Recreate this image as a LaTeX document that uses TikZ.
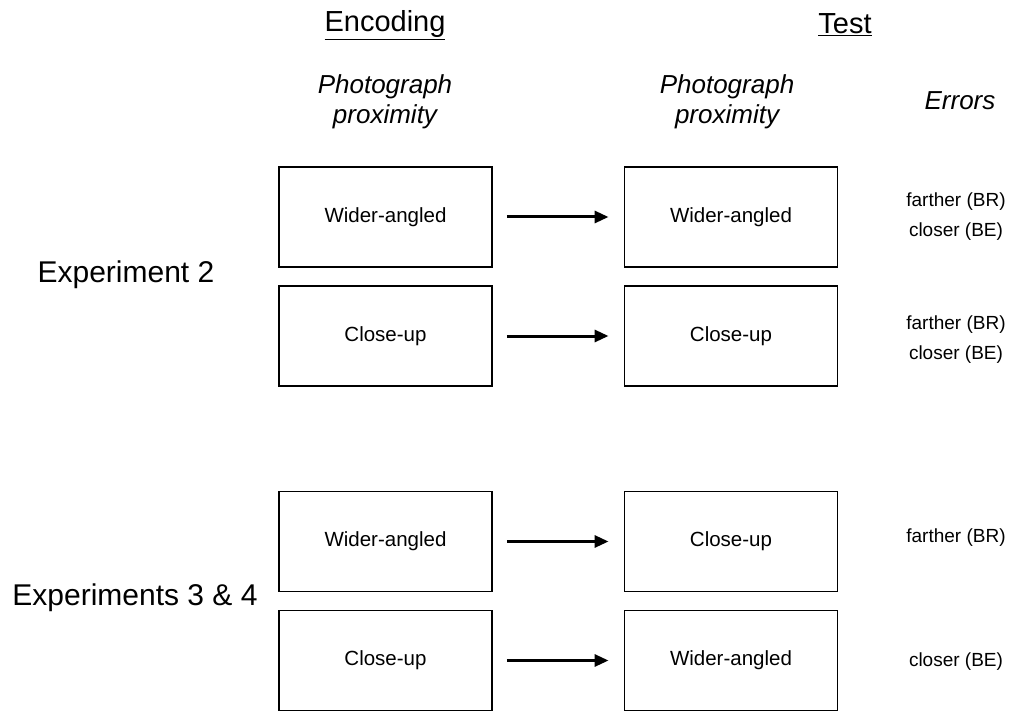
\documentclass[tikz,border=0pt]{standalone}
\usepackage{fontspec}
\setmainfont{Liberation Sans}
\usetikzlibrary{arrows.meta}
\tikzset{
  box/.style={draw, line width=1.9pt, minimum width=213pt, minimum height=100pt, inner sep=0pt, font=\fontsize{20.5}{24}\selectfont},
  conn/.style={line width=3pt, -{Triangle[length=14pt,width=12pt]}, shorten <=14pt, shorten >=15pt},
  head/.style={font=\fontsize{29}{34}\selectfont, inner sep=0pt},
  sub/.style={font=\fontsize{26}{30}\selectfont\itshape, align=center, inner sep=0pt},
  err/.style={font=\fontsize{19}{23}\selectfont, inner sep=0pt},
  expl/.style={font=\fontsize{30}{36}\selectfont, inner sep=0pt}
}
\begin{document}
\begin{tikzpicture}[x=1pt,y=-1pt]
\useasboundingbox (0,0) rectangle (1020,711);
% headers
\node[head] (enc) at (385,25) {\underline{Encoding}};
\node[head] (test) at (845,25) {\underline{Test}};
\node[sub] (pp1) at (385,102) {Photograph\\proximity};
\node[sub] (pp2) at (727,102) {Photograph\\proximity};
\node[sub] (errs) at (960,101) {Errors};
% experiment labels
\node[expl] (e2) at (126,275) {Experiment 2};
\node[expl] (e34) at (135,598) {Experiments 3 \& 4};
% boxes
\node[box] (l1) at (385.5,217) {Wider-angled};
\node[box] (r1) at (731,217) {Wider-angled};
\node[box] (l2) at (385.5,336) {Close-up};
\node[box] (r2) at (731,336) {Close-up};
\node[box] (l3) at (385.5,541.5) {Wider-angled};
\node[box] (r3) at (731,541.5) {Close-up};
\node[box] (l4) at (385.5,660.5) {Close-up};
\node[box] (r4) at (731,660.5) {Wider-angled};
% arrows
\draw[conn] (l1) -- (r1);
\draw[conn] (l2) -- (r2);
\draw[conn] (l3) -- (r3);
\draw[conn] (l4) -- (r4);
% errors
\node[err] (f1) at (956,202) {farther (BR)};
\node[err] (c1) at (956,232) {closer (BE)};
\node[err] (f2) at (956,325) {farther (BR)};
\node[err] (c2) at (956,355) {closer (BE)};
\node[err] (f3) at (956,538) {farther (BR)};
\node[err] (c4) at (956,662) {closer (BE)};
\end{tikzpicture}
\end{document}
